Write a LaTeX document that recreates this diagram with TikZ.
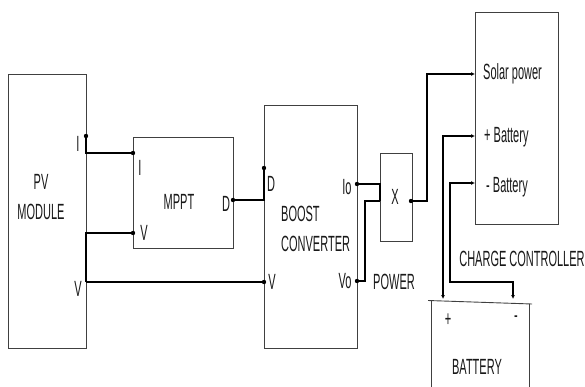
\documentclass[tikz,border=0pt]{standalone}
\usepackage{fontspec}
\setmainfont{Liberation Sans}
\usepackage{tikz}
\usetikzlibrary{positioning, arrows.meta}
\newcommand{\nar}[1]{\scalebox{0.5}[1]{#1}}

\begin{document}
\begin{tikzpicture}[x=1pt, y=-1pt,
    blk/.style={draw=black!75, line width=0.9pt, minimum width=#1, inner sep=0pt},
    wire/.style={draw=black, line width=1.5pt},
    lbl/.style={font=\fontsize{22}{30}\selectfont, text=black!90, inner sep=0pt}]
      \useasboundingbox (0,0) rectangle (585,387);

      % Blocks
      \node[blk=78pt, minimum height=274pt] at (47,211) (pv) {};
      \node[blk=100pt, minimum height=111pt] at (183,192.5) (mppt) {};
      \node[blk=93pt, minimum height=243pt] at (310.5,226.5) (boost) {};
      \node[blk=32pt, minimum height=88pt] at (396,197) (mult) {};
      \node[blk=83pt, minimum height=212pt] at (516.5,118) (cc) {};

      % Battery (slanted top, runs off the bottom)
      \coordinate (batTL) at (428,300.5);
      \coordinate (batTR) at (532,304);
      \draw[black!75, line width=0.9pt] (batTL) -- (batTR);
      \draw[black!75, line width=0.9pt] (431,300.5) -- (431,387);
      \draw[black!75, line width=0.9pt] (529,304) -- (529,387);

      % Block texts
      \node[lbl] at (41,198) (pvtxt) {\nar{\begin{tabular}{@{}c@{}}PV\\MODULE\end{tabular}}};
      \node[lbl] at (179,202) (mppttxt) {\nar{MPPT}};
      \node[lbl, anchor=west] at (281,230) (boosttxt) {\nar{\begin{tabular}{@{}l@{}}BOOST\\CONVERTER\end{tabular}}};
      \node[lbl] at (395,197) (multtxt) {\nar{X}};
      \node[lbl] at (522,259) (cctxt) {\nar{CHARGE CONTROLLER}};
      \node[lbl] at (477,367) (battxt) {\nar{BATTERY}};
      \node[lbl] at (394,282) (powtxt) {\nar{POWER}};

      % Pins
      \coordinate (pvI) at (86,136);
      \coordinate (pvV) at (86,282);
      \coordinate (mpptI) at (133,153);
      \coordinate (mpptV) at (133,233);
      \coordinate (mpptD) at (233,200);
      \coordinate (boostD) at (264,168);
      \coordinate (boostV) at (264,282);
      \coordinate (boostIo) at (357,184);
      \coordinate (boostVo) at (357,281);
      \coordinate (multIn) at (380,201);
      \coordinate (multOut) at (411,201);
      \coordinate (ccSolar) at (475,74);
      \coordinate (ccPlus) at (475,136);
      \coordinate (ccMinus) at (475,183);
      \coordinate (batPlus) at (443,299);
      \coordinate (batMinus) at (513,299);

      % Pin labels
      \node[lbl] at (78,144) (lpvI) {\nar{I}};
      \node[lbl] at (78,289) (lpvV) {\nar{V}};
      \node[lbl] at (140,168) (lmpptI) {\nar{I}};
      \node[lbl] at (144,233) (lmpptV) {\nar{V}};
      \node[lbl] at (226,204) (lmpptD) {\nar{D}};
      \node[lbl] at (271,184) (lboostD) {\nar{D}};
      \node[lbl] at (272,282) (lboostV) {\nar{V}};
      \node[lbl] at (347,187) (lboostIo) {\nar{Io}};
      \node[lbl] at (345,281) (lboostVo) {\nar{Vo}};
      \node[lbl, anchor=west] at (483,74) (lccSolar) {\nar{Solar power}};
      \node[lbl, anchor=west] at (484,137) (lccPlus) {\nar{+ Battery}};
      \node[lbl, anchor=west] at (486,187) (lccMinus) {\nar{- Battery}};
      \node[lbl] at (448,320) (lbatPlus) {\nar{+}};
      \node[lbl] at (516,319) (lbatMinus) {\nar{-}};

      % Wires
      \draw[wire] (pvI) |- (mpptI);
      \draw[wire] (pvV) -- (boostV);
      \draw[wire] (pvV) |- (mpptV);
      \draw[wire] (mpptD) -| (boostD);
      \draw[wire] (boostIo) -| (multIn);
      \draw[wire] (boostVo) -- ++(8,0) |- (multIn);
      \draw[wire, arrows = {-Latex[width=4pt, length=4pt]}] (multOut) -- ++(16,0) |- (ccSolar);
      \draw[wire, arrows = {Latex[width=4pt, length=4pt]-Latex[width=4pt, length=4pt]}] (ccPlus) -| (batPlus);
      \draw[wire, arrows = {Latex[width=4pt, length=4pt]-Latex[width=4pt, length=4pt]}] (ccMinus) -| (450,282) -| (batMinus);

      \foreach \p in {pvI,mpptI,mpptV,mpptD,boostD,boostV,boostIo,boostVo,multOut}
        \fill (\p) circle (2.2pt);
    \end{tikzpicture}
\end{document}
